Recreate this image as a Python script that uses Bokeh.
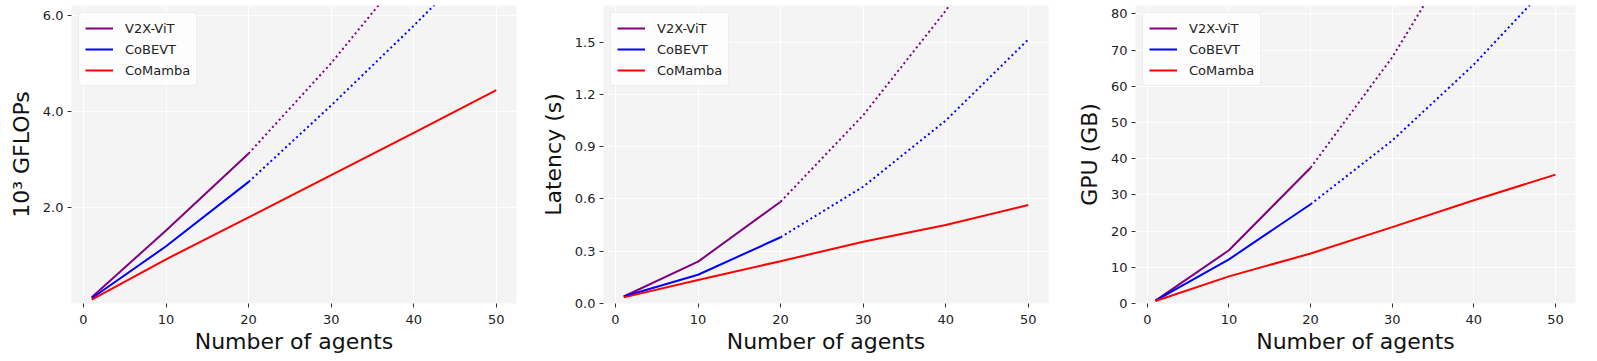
from bokeh.plotting import figure
from bokeh.layouts import row
from bokeh.models import FixedTicker, NumeralTickFormatter, Range1d
from bokeh.embed import file_html
from bokeh.resources import INLINE

agents = [1, 10, 20, 30, 40, 50]
methods = ["V2X-ViT", "CoBEVT", "CoMamba"]
colors = ["#800080", "#0000ff", "#ff0000"]
n_measured = [3, 3, 6]  # points measured (solid); the rest are projections (dotted)

gflops = {
    "V2X-ViT": [0.13, 1.52, 3.12, 5.0, 7.1, 9.4],
    "CoBEVT": [0.11, 1.19, 2.53, 4.12, 5.78, 7.5],
    "CoMamba": [0.08, 0.92, 1.79, 2.67, 3.55, 4.44],
}
latency = {
    "V2X-ViT": [0.04, 0.24, 0.584, 1.08, 1.68, 2.4],
    "CoBEVT": [0.04, 0.165, 0.38, 0.67, 1.05, 1.515],
    "CoMamba": [0.035, 0.135, 0.243, 0.354, 0.45, 0.565],
}
gpu = {
    "V2X-ViT": [0.8, 14.7, 37.5, 68.0, 105.0, 150.0],
    "CoBEVT": [0.8, 12.2, 27.4, 45.0, 66.0, 90.0],
    "CoMamba": [0.7, 7.5, 13.8, 21.1, 28.5, 35.6],
}

gflops_ticks = [2.0, 4.0, 6.0]
latency_ticks = [0.0, 0.3, 0.6, 0.9, 1.2, 1.5]
gpu_ticks = [0, 10, 20, 30, 40, 50, 60, 70, 80]
x_ticks = [0, 10, 20, 30, 40, 50]

FONT = "DejaVu Sans"


def make_panel(data, ylabel, yticks, yfmt, ymax, width, left, right):
    p = figure(width=width, height=358, output_backend="svg", toolbar_location=None,
               x_range=Range1d(-1.45, 52.45), y_range=Range1d(0, ymax),
               min_border_left=left, min_border_right=right,
               min_border_top=5, min_border_bottom=55)
    p.background_fill_color = "#f4f4f4"
    p.border_fill_color = "white"
    p.outline_line_color = None
    for m, c, n in zip(methods, colors, n_measured):
        ys = data[m]
        p.line(agents[:n], ys[:n], line_color=c, line_width=2, legend_label=m)
        if n < len(agents):
            p.line(agents[n - 1:], ys[n - 1:], line_color=c, line_width=2,
                   line_dash="2 3", line_cap="butt")
    for ax in (p.xaxis[0], p.yaxis[0]):
        ax.axis_line_color = None
        ax.major_tick_line_color = "#333333"
        ax.major_tick_in = 0
        ax.major_tick_out = 4
        ax.minor_tick_line_color = None
        ax.major_label_text_font = FONT
        ax.major_label_text_font_size = "13px"
        ax.major_label_text_color = "#222222"
        ax.axis_label_text_font = FONT
        ax.axis_label_text_font_size = "22px"
        ax.axis_label_text_font_style = "normal"
        ax.axis_label_text_color = "#111111"
    p.xaxis.ticker = FixedTicker(ticks=x_ticks)
    p.yaxis.ticker = FixedTicker(ticks=yticks)
    p.yaxis.formatter = NumeralTickFormatter(format=yfmt)
    p.xaxis.axis_label = "Number of agents"
    p.yaxis.axis_label = ylabel
    p.xaxis.major_label_standoff = 7
    p.xaxis.axis_label_standoff = 2
    p.yaxis.major_label_standoff = 4
    p.yaxis.axis_label_standoff = 6
    p.grid.grid_line_color = "white"
    p.grid.grid_line_width = 1
    lg = p.legend[0]
    lg.location = "top_left"
    lg.margin = 7
    lg.label_text_font = FONT
    lg.label_text_font_size = "13px"
    lg.label_text_color = "#222222"
    lg.glyph_width = 28
    lg.glyph_height = 18
    lg.spacing = 3
    lg.padding = 6
    lg.label_standoff = 12
    lg.label_height = 18
    lg.background_fill_color = "white"
    lg.background_fill_alpha = 0.8
    lg.border_line_color = "#dddddd"
    lg.border_radius = 3
    return p


p1 = make_panel(gflops, "10³ GFLOPs", gflops_ticks, "0.0", 6.2, 535, 71, 19)
p2 = make_panel(latency, "Latency (s)", latency_ticks, "0.0", 1.71, 527, 68, 14)
p3 = make_panel(gpu, "GPU (GB)", gpu_ticks, "0", 82.3, 533, 73, 20)

layout = row(p1, p2, p3)
open("out.html", "w").write(file_html(layout, INLINE))
